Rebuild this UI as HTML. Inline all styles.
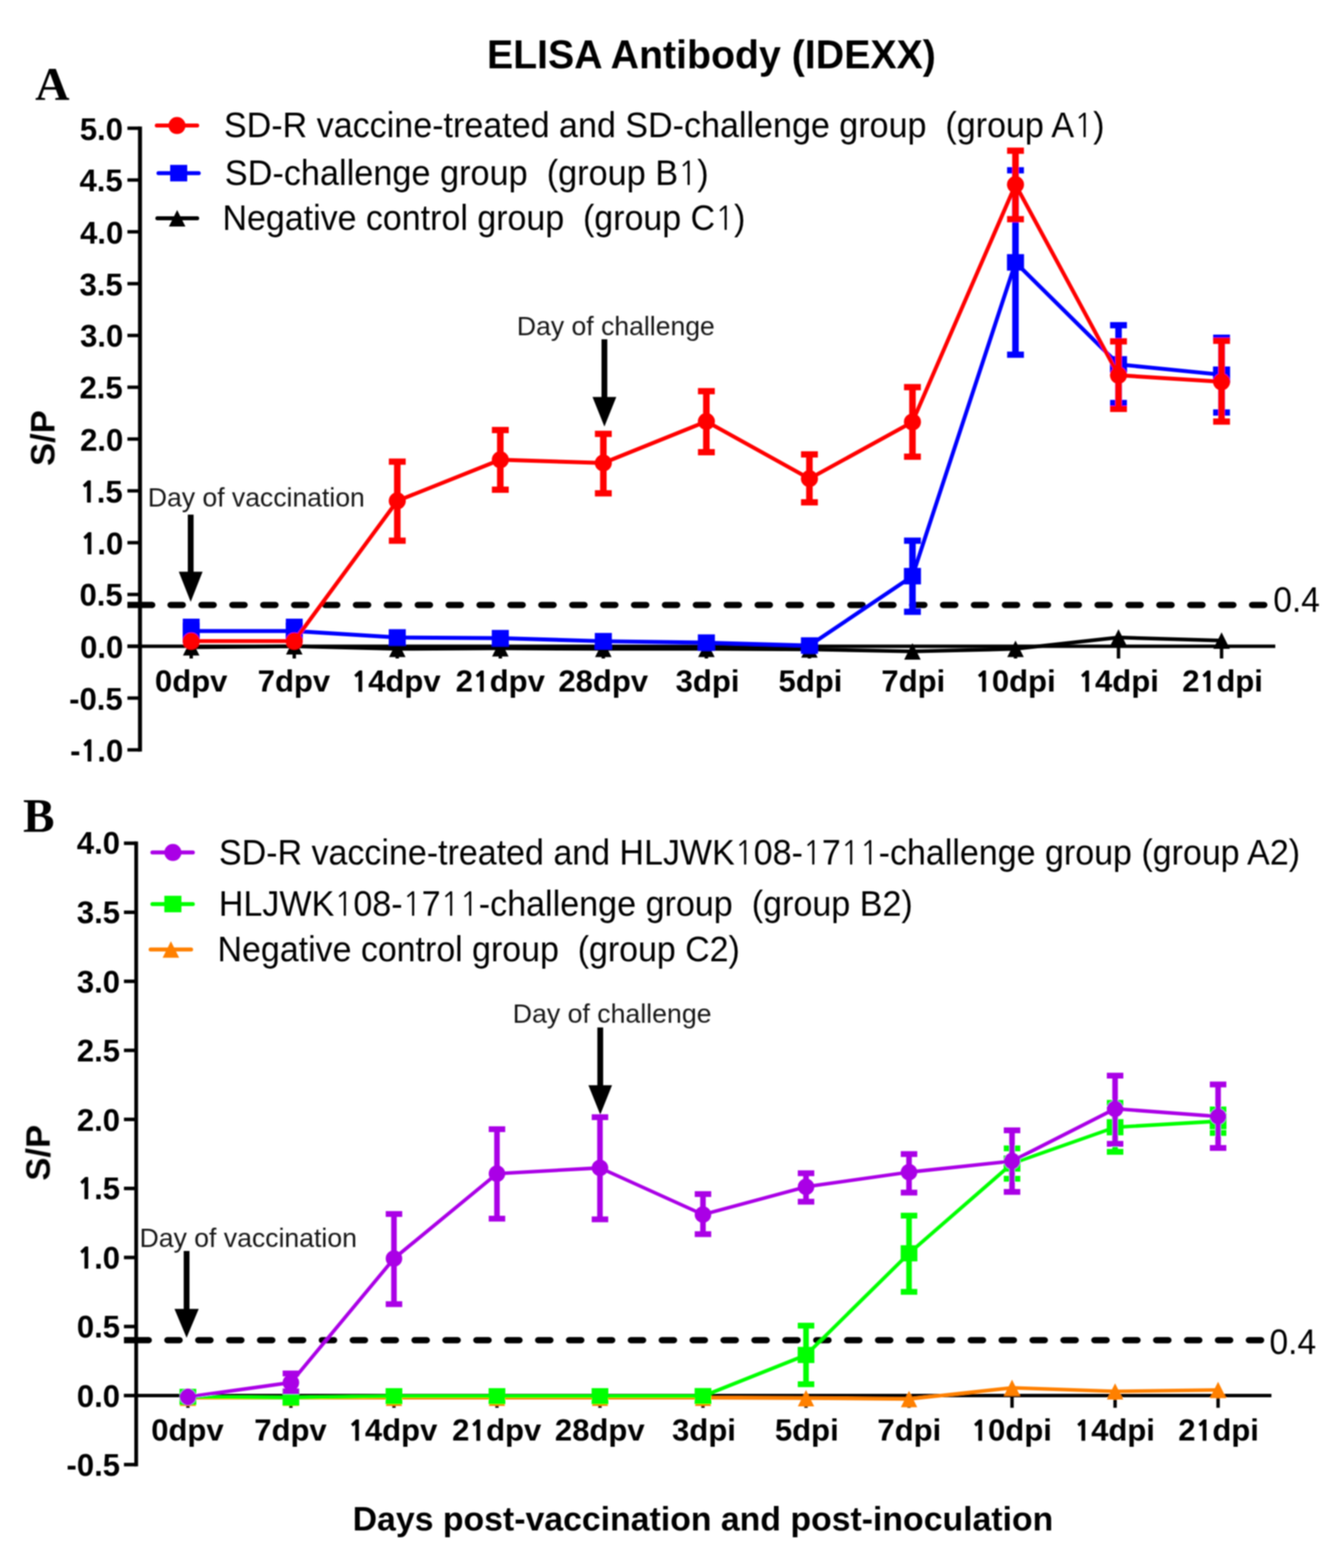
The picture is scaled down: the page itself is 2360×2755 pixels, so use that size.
<!DOCTYPE html>
<html><head><meta charset="utf-8"><title>ELISA Antibody (IDEXX)</title>
<style>html,body{margin:0;padding:0;background:#fff;}svg{display:block;}</style>
</head><body>
<svg width="2360" height="2755" viewBox="0 0 2360 2755">
<rect width="2360" height="2755" fill="#fff"/>
<defs><filter id="soft" filterUnits="userSpaceOnUse" x="0" y="0" width="2360" height="2755"><feGaussianBlur stdDeviation="0.8"/></filter></defs>
<g filter="url(#soft)">
<rect x="242.5" y="222.3" width="7.0" height="1098.2" fill="#000000"/>
<rect x="223.9" y="1314.5" width="22.1" height="6.0" fill="#000000"/>
<rect x="223.9" y="1223.5" width="22.1" height="6.0" fill="#000000"/>
<rect x="223.9" y="1132.5" width="22.1" height="6.0" fill="#000000"/>
<rect x="223.9" y="1041.5" width="22.1" height="6.0" fill="#000000"/>
<rect x="223.9" y="950.5" width="22.1" height="6.0" fill="#000000"/>
<rect x="223.9" y="859.4" width="22.1" height="6.0" fill="#000000"/>
<rect x="223.9" y="768.4" width="22.1" height="6.0" fill="#000000"/>
<rect x="223.9" y="677.4" width="22.1" height="6.0" fill="#000000"/>
<rect x="223.9" y="586.4" width="22.1" height="6.0" fill="#000000"/>
<rect x="223.9" y="495.4" width="22.1" height="6.0" fill="#000000"/>
<rect x="223.9" y="404.3" width="22.1" height="6.0" fill="#000000"/>
<rect x="223.9" y="313.3" width="22.1" height="6.0" fill="#000000"/>
<rect x="223.9" y="222.3" width="22.1" height="6.0" fill="#000000"/>
<rect x="223.9" y="1132.5" width="2017.1" height="6.0" fill="#000000"/>
<rect x="333.0" y="1135.5" width="6.0" height="21.5" fill="#000000"/>
<rect x="514.1" y="1135.5" width="6.0" height="21.5" fill="#000000"/>
<rect x="695.1" y="1135.5" width="6.0" height="21.5" fill="#000000"/>
<rect x="876.2" y="1135.5" width="6.0" height="21.5" fill="#000000"/>
<rect x="1057.2" y="1135.5" width="6.0" height="21.5" fill="#000000"/>
<rect x="1238.3" y="1135.5" width="6.0" height="21.5" fill="#000000"/>
<rect x="1419.4" y="1135.5" width="6.0" height="21.5" fill="#000000"/>
<rect x="1600.4" y="1135.5" width="6.0" height="21.5" fill="#000000"/>
<rect x="1781.5" y="1135.5" width="6.0" height="21.5" fill="#000000"/>
<rect x="1962.5" y="1135.5" width="6.0" height="21.5" fill="#000000"/>
<rect x="2143.6" y="1135.5" width="6.0" height="21.5" fill="#000000"/>
<rect x="223.9" y="1057.4" width="43.6" height="11.0" fill="#000000"/>
<circle cx="267.5" cy="1062.9" r="5.5" fill="#000000"/>
<line x1="299.7" y1="1062.9" x2="2223.0" y2="1062.9" stroke="#000" stroke-width="11" stroke-linecap="round" stroke-dasharray="21.5 32.80"/>
<rect x="330.0" y="904.2" width="10.2" height="102.3" fill="#000000"/>
<polygon points="314.2,1004.5 356.0,1004.5 335.1,1057.5" fill="#000000"/>
<rect x="1057.0" y="596.1" width="10.2" height="103.3" fill="#000000"/>
<polygon points="1041.2,697.4 1083.0,697.4 1062.1,749.5" fill="#000000"/>
<polyline points="336.0,1137.3 517.1,1135.5 698.1,1140.1 879.2,1139.1 1060.2,1140.1 1241.3,1140.1 1422.4,1141.0 1603.4,1144.6 1784.5,1140.1 1965.5,1120.0 2146.6,1125.5" fill="none" stroke="#000000" stroke-width="6.5" stroke-linejoin="round"/>
<polygon points="321.5,1151.8 350.5,1151.8 336.0,1122.8" fill="#000000"/>
<polygon points="502.6,1150.0 531.6,1150.0 517.1,1121.0" fill="#000000"/>
<polygon points="683.6,1154.6 712.6,1154.6 698.1,1125.6" fill="#000000"/>
<polygon points="864.7,1153.6 893.7,1153.6 879.2,1124.6" fill="#000000"/>
<polygon points="1045.7,1154.6 1074.7,1154.6 1060.2,1125.6" fill="#000000"/>
<polygon points="1226.8,1154.6 1255.8,1154.6 1241.3,1125.6" fill="#000000"/>
<polygon points="1407.9,1155.5 1436.9,1155.5 1422.4,1126.5" fill="#000000"/>
<polygon points="1588.9,1159.1 1617.9,1159.1 1603.4,1130.1" fill="#000000"/>
<polygon points="1770.0,1154.6 1799.0,1154.6 1784.5,1125.6" fill="#000000"/>
<polygon points="1951.0,1134.5 1980.0,1134.5 1965.5,1105.5" fill="#000000"/>
<polygon points="2132.1,1140.0 2161.1,1140.0 2146.6,1111.0" fill="#000000"/>
<rect x="330.2" y="1092.5" width="11.5" height="16.2" fill="#0000ff"/>
<rect x="321.2" y="1087.0" width="29.6" height="11.0" fill="#0000ff"/>
<rect x="330.2" y="1108.7" width="11.5" height="15.8" fill="#0000ff"/>
<rect x="321.2" y="1119.1" width="29.6" height="11.0" fill="#0000ff"/>
<rect x="511.3" y="1092.5" width="11.5" height="16.2" fill="#0000ff"/>
<rect x="502.3" y="1087.0" width="29.6" height="11.0" fill="#0000ff"/>
<rect x="511.3" y="1108.7" width="11.5" height="15.8" fill="#0000ff"/>
<rect x="502.3" y="1119.1" width="29.6" height="11.0" fill="#0000ff"/>
<rect x="1597.7" y="950.0" width="11.5" height="62.3" fill="#0000ff"/>
<rect x="1588.6" y="944.5" width="29.6" height="11.0" fill="#0000ff"/>
<rect x="1597.7" y="1012.3" width="11.5" height="62.6" fill="#0000ff"/>
<rect x="1588.6" y="1069.4" width="29.6" height="11.0" fill="#0000ff"/>
<rect x="1778.7" y="299.2" width="11.5" height="161.8" fill="#0000ff"/>
<rect x="1769.7" y="293.7" width="29.6" height="11.0" fill="#0000ff"/>
<rect x="1778.7" y="461.0" width="11.5" height="162.2" fill="#0000ff"/>
<rect x="1769.7" y="617.7" width="29.6" height="11.0" fill="#0000ff"/>
<rect x="1959.8" y="571.4" width="11.5" height="68.8" fill="#0000ff"/>
<rect x="1950.7" y="565.9" width="29.6" height="11.0" fill="#0000ff"/>
<rect x="1959.8" y="640.2" width="11.5" height="67.9" fill="#0000ff"/>
<rect x="1950.7" y="702.6" width="29.6" height="11.0" fill="#0000ff"/>
<rect x="2140.8" y="593.4" width="11.5" height="65.0" fill="#0000ff"/>
<rect x="2131.8" y="587.9" width="29.6" height="11.0" fill="#0000ff"/>
<rect x="2140.8" y="658.4" width="11.5" height="66.4" fill="#0000ff"/>
<rect x="2131.8" y="719.3" width="29.6" height="11.0" fill="#0000ff"/>
<polyline points="336.0,1108.7 517.1,1108.7 698.1,1120.0 879.2,1121.3 1060.2,1126.6 1241.3,1129.1 1422.4,1134.2 1603.4,1012.3 1784.5,461.0 1965.5,640.2 2146.6,658.4" fill="none" stroke="#0000ff" stroke-width="6.9" stroke-linejoin="round"/>
<rect x="321.0" y="1094.2" width="30.0" height="29.0" fill="#0000ff"/>
<rect x="502.1" y="1094.2" width="30.0" height="29.0" fill="#0000ff"/>
<rect x="683.1" y="1105.5" width="30.0" height="29.0" fill="#0000ff"/>
<rect x="864.2" y="1106.8" width="30.0" height="29.0" fill="#0000ff"/>
<rect x="1045.2" y="1112.1" width="30.0" height="29.0" fill="#0000ff"/>
<rect x="1226.3" y="1114.6" width="30.0" height="29.0" fill="#0000ff"/>
<rect x="1407.4" y="1119.7" width="30.0" height="29.0" fill="#0000ff"/>
<rect x="1588.4" y="997.8" width="30.0" height="29.0" fill="#0000ff"/>
<rect x="1769.5" y="446.5" width="30.0" height="29.0" fill="#0000ff"/>
<rect x="1950.5" y="625.7" width="30.0" height="29.0" fill="#0000ff"/>
<rect x="2131.6" y="643.9" width="30.0" height="29.0" fill="#0000ff"/>
<rect x="692.4" y="811.1" width="11.5" height="69.0" fill="#ff0000"/>
<rect x="683.3" y="805.6" width="29.6" height="11.0" fill="#ff0000"/>
<rect x="692.4" y="880.1" width="11.5" height="69.9" fill="#ff0000"/>
<rect x="683.3" y="944.5" width="29.6" height="11.0" fill="#ff0000"/>
<rect x="873.4" y="755.6" width="11.5" height="52.2" fill="#ff0000"/>
<rect x="864.4" y="750.1" width="29.6" height="11.0" fill="#ff0000"/>
<rect x="873.4" y="807.8" width="11.5" height="52.6" fill="#ff0000"/>
<rect x="864.4" y="854.9" width="29.6" height="11.0" fill="#ff0000"/>
<rect x="1054.5" y="762.3" width="11.5" height="51.2" fill="#ff0000"/>
<rect x="1045.4" y="756.8" width="29.6" height="11.0" fill="#ff0000"/>
<rect x="1054.5" y="813.5" width="11.5" height="53.3" fill="#ff0000"/>
<rect x="1045.4" y="861.3" width="29.6" height="11.0" fill="#ff0000"/>
<rect x="1235.5" y="687.3" width="11.5" height="53.2" fill="#ff0000"/>
<rect x="1226.5" y="681.8" width="29.6" height="11.0" fill="#ff0000"/>
<rect x="1235.5" y="740.5" width="11.5" height="54.1" fill="#ff0000"/>
<rect x="1226.5" y="789.0" width="29.6" height="11.0" fill="#ff0000"/>
<rect x="1416.6" y="798.4" width="11.5" height="42.6" fill="#ff0000"/>
<rect x="1407.6" y="792.9" width="29.6" height="11.0" fill="#ff0000"/>
<rect x="1416.6" y="841.0" width="11.5" height="41.7" fill="#ff0000"/>
<rect x="1407.6" y="877.1" width="29.6" height="11.0" fill="#ff0000"/>
<rect x="1597.7" y="680.2" width="11.5" height="61.2" fill="#ff0000"/>
<rect x="1588.6" y="674.7" width="29.6" height="11.0" fill="#ff0000"/>
<rect x="1597.7" y="741.4" width="11.5" height="61.0" fill="#ff0000"/>
<rect x="1588.6" y="796.9" width="29.6" height="11.0" fill="#ff0000"/>
<rect x="1778.7" y="264.8" width="11.5" height="59.5" fill="#ff0000"/>
<rect x="1769.7" y="259.3" width="29.6" height="11.0" fill="#ff0000"/>
<rect x="1778.7" y="324.3" width="11.5" height="60.8" fill="#ff0000"/>
<rect x="1769.7" y="379.6" width="29.6" height="11.0" fill="#ff0000"/>
<rect x="1959.8" y="599.8" width="11.5" height="59.5" fill="#ff0000"/>
<rect x="1950.7" y="594.3" width="29.6" height="11.0" fill="#ff0000"/>
<rect x="1959.8" y="659.3" width="11.5" height="59.2" fill="#ff0000"/>
<rect x="1950.7" y="712.9" width="29.6" height="11.0" fill="#ff0000"/>
<rect x="2140.8" y="598.8" width="11.5" height="71.9" fill="#ff0000"/>
<rect x="2131.8" y="593.3" width="29.6" height="11.0" fill="#ff0000"/>
<rect x="2140.8" y="670.8" width="11.5" height="69.9" fill="#ff0000"/>
<rect x="2131.8" y="735.2" width="29.6" height="11.0" fill="#ff0000"/>
<polyline points="336.0,1126.4 517.1,1126.4 698.1,880.1 879.2,807.8 1060.2,813.5 1241.3,740.5 1422.4,841.0 1603.4,741.4 1784.5,324.3 1965.5,659.3 2146.6,670.8" fill="none" stroke="#ff0000" stroke-width="6.9" stroke-linejoin="round"/>
<circle cx="336.0" cy="1126.4" r="15.0" fill="#ff0000"/>
<circle cx="517.1" cy="1126.4" r="15.0" fill="#ff0000"/>
<circle cx="698.1" cy="880.1" r="15.0" fill="#ff0000"/>
<circle cx="879.2" cy="807.8" r="15.0" fill="#ff0000"/>
<circle cx="1060.2" cy="813.5" r="15.0" fill="#ff0000"/>
<circle cx="1241.3" cy="740.5" r="15.0" fill="#ff0000"/>
<circle cx="1422.4" cy="841.0" r="15.0" fill="#ff0000"/>
<circle cx="1603.4" cy="741.4" r="15.0" fill="#ff0000"/>
<circle cx="1784.5" cy="324.3" r="15.0" fill="#ff0000"/>
<circle cx="1965.5" cy="659.3" r="15.0" fill="#ff0000"/>
<circle cx="2146.6" cy="670.8" r="15.0" fill="#ff0000"/>
<line x1="275.5" y1="220.6" x2="346.5" y2="220.6" stroke="#ff0000" stroke-width="7.0" stroke-linecap="round"/>
<circle cx="311.0" cy="220.6" r="15.0" fill="#ff0000"/>
<line x1="278.5" y1="304.2" x2="349.2" y2="304.2" stroke="#0000ff" stroke-width="7.0" stroke-linecap="round"/>
<rect x="299.0" y="289.7" width="30.0" height="29.0" fill="#0000ff"/>
<line x1="276.5" y1="383.6" x2="346.5" y2="383.6" stroke="#000000" stroke-width="7.0" stroke-linecap="round"/>
<polygon points="296.8,398.1 325.8,398.1 311.3,369.1" fill="#000000"/>
<rect x="236.0" y="1478.5" width="6.6" height="1097.9" fill="#000000"/>
<rect x="217.8" y="2570.2" width="21.5" height="6.2" fill="#000000"/>
<rect x="217.8" y="2448.9" width="21.5" height="6.2" fill="#000000"/>
<rect x="217.8" y="2327.6" width="21.5" height="6.2" fill="#000000"/>
<rect x="217.8" y="2206.3" width="21.5" height="6.2" fill="#000000"/>
<rect x="217.8" y="2085.0" width="21.5" height="6.2" fill="#000000"/>
<rect x="217.8" y="1963.7" width="21.5" height="6.2" fill="#000000"/>
<rect x="217.8" y="1842.4" width="21.5" height="6.2" fill="#000000"/>
<rect x="217.8" y="1721.1" width="21.5" height="6.2" fill="#000000"/>
<rect x="217.8" y="1599.8" width="21.5" height="6.2" fill="#000000"/>
<rect x="217.8" y="1478.5" width="21.5" height="6.2" fill="#000000"/>
<rect x="217.8" y="2449.0" width="2016.4" height="6.0" fill="#000000"/>
<rect x="327.2" y="2452.0" width="6.0" height="21.5" fill="#000000"/>
<rect x="508.2" y="2452.0" width="6.0" height="21.5" fill="#000000"/>
<rect x="689.3" y="2452.0" width="6.0" height="21.5" fill="#000000"/>
<rect x="870.3" y="2452.0" width="6.0" height="21.5" fill="#000000"/>
<rect x="1051.3" y="2452.0" width="6.0" height="21.5" fill="#000000"/>
<rect x="1232.3" y="2452.0" width="6.0" height="21.5" fill="#000000"/>
<rect x="1413.4" y="2452.0" width="6.0" height="21.5" fill="#000000"/>
<rect x="1594.4" y="2452.0" width="6.0" height="21.5" fill="#000000"/>
<rect x="1775.4" y="2452.0" width="6.0" height="21.5" fill="#000000"/>
<rect x="1956.5" y="2452.0" width="6.0" height="21.5" fill="#000000"/>
<rect x="2137.5" y="2452.0" width="6.0" height="21.5" fill="#000000"/>
<rect x="217.8" y="2349.2" width="43.6" height="11.0" fill="#000000"/>
<circle cx="261.4" cy="2354.7" r="5.5" fill="#000000"/>
<line x1="294.1" y1="2354.7" x2="2217.0" y2="2354.7" stroke="#000" stroke-width="11" stroke-linecap="round" stroke-dasharray="21.5 32.80"/>
<rect x="322.8" y="2198.0" width="10.2" height="103.7" fill="#000000"/>
<polygon points="306.6,2299.7 349.2,2299.7 327.9,2350.6" fill="#000000"/>
<rect x="1049.7" y="1805.3" width="10.2" height="103.4" fill="#000000"/>
<polygon points="1034.0,1906.7 1075.5,1906.7 1054.8,1958.4" fill="#000000"/>
<polyline points="330.2,2455.9 511.2,2455.9 692.3,2455.9 873.3,2455.9 1054.3,2455.9 1235.3,2455.9 1416.4,2456.6 1597.4,2458.1 1778.4,2438.4 1959.5,2444.7 2140.5,2442.1" fill="none" stroke="#ff8000" stroke-width="6.3" stroke-linejoin="round"/>
<polygon points="315.8,2470.2 344.6,2470.2 330.2,2441.5" fill="#ff8000"/>
<polygon points="496.9,2470.2 525.6,2470.2 511.2,2441.5" fill="#ff8000"/>
<polygon points="677.9,2470.2 706.6,2470.2 692.3,2441.5" fill="#ff8000"/>
<polygon points="858.9,2470.2 887.6,2470.2 873.3,2441.5" fill="#ff8000"/>
<polygon points="1040.0,2470.2 1068.7,2470.2 1054.3,2441.5" fill="#ff8000"/>
<polygon points="1221.0,2470.2 1249.7,2470.2 1235.3,2441.5" fill="#ff8000"/>
<polygon points="1402.0,2471.0 1430.7,2471.0 1416.4,2442.3" fill="#ff8000"/>
<polygon points="1583.1,2472.4 1611.8,2472.4 1597.4,2443.7" fill="#ff8000"/>
<polygon points="1764.1,2452.8 1792.8,2452.8 1778.4,2424.1" fill="#ff8000"/>
<polygon points="1945.1,2459.1 1973.8,2459.1 1959.5,2430.4" fill="#ff8000"/>
<polygon points="2126.1,2456.4 2154.9,2456.4 2140.5,2427.7" fill="#ff8000"/>
<rect x="1411.5" y="2329.2" width="9.8" height="51.4" fill="#00ff00"/>
<rect x="1401.9" y="2324.1" width="29.0" height="10.2" fill="#00ff00"/>
<rect x="1411.5" y="2380.7" width="9.8" height="51.4" fill="#00ff00"/>
<rect x="1401.9" y="2427.0" width="29.0" height="10.2" fill="#00ff00"/>
<rect x="1592.5" y="2135.9" width="9.8" height="66.2" fill="#00ff00"/>
<rect x="1582.9" y="2130.8" width="29.0" height="10.2" fill="#00ff00"/>
<rect x="1592.5" y="2202.1" width="9.8" height="67.7" fill="#00ff00"/>
<rect x="1582.9" y="2264.7" width="29.0" height="10.2" fill="#00ff00"/>
<rect x="1773.5" y="2017.7" width="9.8" height="26.7" fill="#00ff00"/>
<rect x="1763.9" y="2012.6" width="29.0" height="10.2" fill="#00ff00"/>
<rect x="1773.5" y="2044.4" width="9.8" height="26.7" fill="#00ff00"/>
<rect x="1763.9" y="2066.0" width="29.0" height="10.2" fill="#00ff00"/>
<rect x="1954.6" y="1937.7" width="9.8" height="42.9" fill="#00ff00"/>
<rect x="1945.0" y="1932.6" width="29.0" height="10.2" fill="#00ff00"/>
<rect x="1954.6" y="1980.6" width="9.8" height="43.2" fill="#00ff00"/>
<rect x="1945.0" y="2018.7" width="29.0" height="10.2" fill="#00ff00"/>
<rect x="2135.6" y="1949.3" width="9.8" height="20.6" fill="#00ff00"/>
<rect x="2126.0" y="1944.2" width="29.0" height="10.2" fill="#00ff00"/>
<rect x="2135.6" y="1970.0" width="9.8" height="20.6" fill="#00ff00"/>
<rect x="2126.0" y="1985.5" width="29.0" height="10.2" fill="#00ff00"/>
<polyline points="330.2,2454.4 511.2,2455.6 692.3,2453.2 873.3,2453.2 1054.3,2453.2 1235.3,2453.0 1416.4,2380.7 1597.4,2202.1 1778.4,2044.4 1959.5,1980.6 2140.5,1970.0" fill="none" stroke="#00ff00" stroke-width="6.3" stroke-linejoin="round"/>
<rect x="315.5" y="2440.2" width="29.4" height="28.4" fill="#00ff00"/>
<rect x="496.5" y="2441.4" width="29.4" height="28.4" fill="#00ff00"/>
<rect x="677.6" y="2439.0" width="29.4" height="28.4" fill="#00ff00"/>
<rect x="858.6" y="2439.0" width="29.4" height="28.4" fill="#00ff00"/>
<rect x="1039.6" y="2439.0" width="29.4" height="28.4" fill="#00ff00"/>
<rect x="1220.6" y="2438.8" width="29.4" height="28.4" fill="#00ff00"/>
<rect x="1401.7" y="2366.5" width="29.4" height="28.4" fill="#00ff00"/>
<rect x="1582.7" y="2187.9" width="29.4" height="28.4" fill="#00ff00"/>
<rect x="1763.7" y="2030.2" width="29.4" height="28.4" fill="#00ff00"/>
<rect x="1944.8" y="1966.4" width="29.4" height="28.4" fill="#00ff00"/>
<rect x="2125.8" y="1955.7" width="29.4" height="28.4" fill="#00ff00"/>
<rect x="506.3" y="2413.2" width="9.8" height="16.0" fill="#aa00e6"/>
<rect x="496.7" y="2408.1" width="29.0" height="10.2" fill="#aa00e6"/>
<rect x="506.3" y="2429.2" width="9.8" height="15.5" fill="#aa00e6"/>
<rect x="496.7" y="2439.6" width="29.0" height="10.2" fill="#aa00e6"/>
<rect x="687.4" y="2133.0" width="9.8" height="78.4" fill="#aa00e6"/>
<rect x="677.8" y="2127.9" width="29.0" height="10.2" fill="#aa00e6"/>
<rect x="687.4" y="2211.3" width="9.8" height="80.1" fill="#aa00e6"/>
<rect x="677.8" y="2286.3" width="29.0" height="10.2" fill="#aa00e6"/>
<rect x="868.4" y="1984.0" width="9.8" height="78.1" fill="#aa00e6"/>
<rect x="858.8" y="1978.9" width="29.0" height="10.2" fill="#aa00e6"/>
<rect x="868.4" y="2062.1" width="9.8" height="79.1" fill="#aa00e6"/>
<rect x="858.8" y="2136.1" width="29.0" height="10.2" fill="#aa00e6"/>
<rect x="1049.4" y="1962.9" width="9.8" height="89.0" fill="#aa00e6"/>
<rect x="1039.8" y="1957.8" width="29.0" height="10.2" fill="#aa00e6"/>
<rect x="1049.4" y="2052.0" width="9.8" height="90.5" fill="#aa00e6"/>
<rect x="1039.8" y="2137.3" width="29.0" height="10.2" fill="#aa00e6"/>
<rect x="1230.4" y="2098.0" width="9.8" height="35.9" fill="#aa00e6"/>
<rect x="1220.8" y="2092.9" width="29.0" height="10.2" fill="#aa00e6"/>
<rect x="1230.4" y="2134.0" width="9.8" height="34.4" fill="#aa00e6"/>
<rect x="1220.8" y="2163.3" width="29.0" height="10.2" fill="#aa00e6"/>
<rect x="1411.5" y="2061.4" width="9.8" height="23.8" fill="#aa00e6"/>
<rect x="1401.9" y="2056.3" width="29.0" height="10.2" fill="#aa00e6"/>
<rect x="1411.5" y="2085.2" width="9.8" height="26.2" fill="#aa00e6"/>
<rect x="1401.9" y="2106.3" width="29.0" height="10.2" fill="#aa00e6"/>
<rect x="1592.5" y="2027.7" width="9.8" height="31.8" fill="#aa00e6"/>
<rect x="1582.9" y="2022.6" width="29.0" height="10.2" fill="#aa00e6"/>
<rect x="1592.5" y="2059.5" width="9.8" height="35.9" fill="#aa00e6"/>
<rect x="1582.9" y="2090.3" width="29.0" height="10.2" fill="#aa00e6"/>
<rect x="1773.5" y="1986.0" width="9.8" height="54.1" fill="#aa00e6"/>
<rect x="1763.9" y="1980.9" width="29.0" height="10.2" fill="#aa00e6"/>
<rect x="1773.5" y="2040.1" width="9.8" height="54.1" fill="#aa00e6"/>
<rect x="1763.9" y="2089.1" width="29.0" height="10.2" fill="#aa00e6"/>
<rect x="1954.6" y="1889.9" width="9.8" height="58.2" fill="#aa00e6"/>
<rect x="1945.0" y="1884.8" width="29.0" height="10.2" fill="#aa00e6"/>
<rect x="1954.6" y="1948.1" width="9.8" height="61.6" fill="#aa00e6"/>
<rect x="1945.0" y="2004.6" width="29.0" height="10.2" fill="#aa00e6"/>
<rect x="2135.6" y="1905.4" width="9.8" height="56.3" fill="#aa00e6"/>
<rect x="2126.0" y="1900.3" width="29.0" height="10.2" fill="#aa00e6"/>
<rect x="2135.6" y="1961.7" width="9.8" height="55.3" fill="#aa00e6"/>
<rect x="2126.0" y="2011.9" width="29.0" height="10.2" fill="#aa00e6"/>
<polyline points="330.2,2454.4 511.2,2429.2 692.3,2211.3 873.3,2062.1 1054.3,2052.0 1235.3,2134.0 1416.4,2085.2 1597.4,2059.5 1778.4,2040.1 1959.5,1948.1 2140.5,1961.7" fill="none" stroke="#aa00e6" stroke-width="6.3" stroke-linejoin="round"/>
<circle cx="330.2" cy="2454.4" r="14.549999999999999" fill="#aa00e6"/>
<circle cx="511.2" cy="2429.2" r="14.549999999999999" fill="#aa00e6"/>
<circle cx="692.3" cy="2211.3" r="14.549999999999999" fill="#aa00e6"/>
<circle cx="873.3" cy="2062.1" r="14.549999999999999" fill="#aa00e6"/>
<circle cx="1054.3" cy="2052.0" r="14.549999999999999" fill="#aa00e6"/>
<circle cx="1235.3" cy="2134.0" r="14.549999999999999" fill="#aa00e6"/>
<circle cx="1416.4" cy="2085.2" r="14.549999999999999" fill="#aa00e6"/>
<circle cx="1597.4" cy="2059.5" r="14.549999999999999" fill="#aa00e6"/>
<circle cx="1778.4" cy="2040.1" r="14.549999999999999" fill="#aa00e6"/>
<circle cx="1959.5" cy="1948.1" r="14.549999999999999" fill="#aa00e6"/>
<circle cx="2140.5" cy="1961.7" r="14.549999999999999" fill="#aa00e6"/>
<line x1="267.8" y1="1497.8" x2="338.9" y2="1497.8" stroke="#aa00e6" stroke-width="7.0" stroke-linecap="round"/>
<circle cx="303.8" cy="1497.8" r="15.0" fill="#aa00e6"/>
<line x1="267.8" y1="1588.4" x2="338.9" y2="1588.4" stroke="#00ff00" stroke-width="7.0" stroke-linecap="round"/>
<rect x="288.8" y="1573.9" width="30.0" height="29.0" fill="#00ff00"/>
<line x1="264.7" y1="1668.2" x2="335.8" y2="1668.2" stroke="#ff8000" stroke-width="7.0" stroke-linecap="round"/>
<polygon points="285.8,1682.7 314.8,1682.7 300.3,1653.7" fill="#ff8000"/>
<text transform="translate(1250.10,120.02) scale(0.9928,1)" font-family="'Liberation Sans', Arial, sans-serif" font-size="69.56" font-weight="bold" text-anchor="middle" fill="#000">ELISA Antibody (IDEXX)</text>
<text transform="translate(91.89,175.08) scale(1.0063,1)" font-family="'Liberation Serif', 'Times New Roman', serif" font-size="83.23" font-weight="bold" text-anchor="middle" fill="#000">A</text>
<text transform="translate(68.29,1462.42) scale(0.9888,1)" font-family="'Liberation Serif', 'Times New Roman', serif" font-size="83.94" font-weight="bold" text-anchor="middle" fill="#000">B</text>
<text transform="translate(1167.20,241.21) scale(0.9580,1)" font-family="'Liberation Sans', Arial, sans-serif" font-size="62.50" font-weight="normal" text-anchor="middle" fill="#000">SD-R vaccine-treated and SD-challenge group  (group A<tspan font-family="NanumGothic, 'Liberation Sans', sans-serif" style="font-size:0.922em">1</tspan>)</text>
<text transform="translate(820.16,324.64) scale(0.9635,1)" font-family="'Liberation Sans', Arial, sans-serif" font-size="62.50" font-weight="normal" text-anchor="middle" fill="#000">SD-challenge group  (group B<tspan font-family="NanumGothic, 'Liberation Sans', sans-serif" style="font-size:0.922em">1</tspan>)</text>
<text transform="translate(850.41,403.88) scale(0.9549,1)" font-family="'Liberation Sans', Arial, sans-serif" font-size="62.50" font-weight="normal" text-anchor="middle" fill="#000">Negative control group  (group C<tspan font-family="NanumGothic, 'Liberation Sans', sans-serif" style="font-size:0.922em">1</tspan>)</text>
<text transform="translate(1334.70,1518.62) scale(0.9558,1)" font-family="'Liberation Sans', Arial, sans-serif" font-size="62.50" font-weight="normal" text-anchor="middle" fill="#000">SD-R vaccine-treated and HLJWK<tspan font-family="NanumGothic, 'Liberation Sans', sans-serif" style="font-size:0.922em">1</tspan>08-<tspan font-family="NanumGothic, 'Liberation Sans', sans-serif" style="font-size:0.922em">1</tspan>7<tspan font-family="NanumGothic, 'Liberation Sans', sans-serif" style="font-size:0.922em">1</tspan><tspan font-family="NanumGothic, 'Liberation Sans', sans-serif" style="font-size:0.922em">1</tspan>-challenge group (group A2)</text>
<text transform="translate(994.18,1609.21) scale(0.9587,1)" font-family="'Liberation Sans', Arial, sans-serif" font-size="62.50" font-weight="normal" text-anchor="middle" fill="#000">HLJWK<tspan font-family="NanumGothic, 'Liberation Sans', sans-serif" style="font-size:0.922em">1</tspan>08-<tspan font-family="NanumGothic, 'Liberation Sans', sans-serif" style="font-size:0.922em">1</tspan>7<tspan font-family="NanumGothic, 'Liberation Sans', sans-serif" style="font-size:0.922em">1</tspan><tspan font-family="NanumGothic, 'Liberation Sans', sans-serif" style="font-size:0.922em">1</tspan>-challenge group  (group B2)</text>
<text transform="translate(841.20,1688.71) scale(0.9539,1)" font-family="'Liberation Sans', Arial, sans-serif" font-size="62.50" font-weight="normal" text-anchor="middle" fill="#000">Negative control group  (group C2)</text>
<text transform="translate(95.61,769.70) rotate(-90) scale(1.0265,1)" font-family="'Liberation Sans', Arial, sans-serif" font-size="59.20" font-weight="bold" text-anchor="middle" fill="#000">S/P</text>
<text transform="translate(87.40,2025.40) rotate(-90) scale(1.0263,1)" font-family="'Liberation Sans', Arial, sans-serif" font-size="59.20" font-weight="bold" text-anchor="middle" fill="#000">S/P</text>
<text transform="translate(2278.40,1074.64) scale(0.9502,1)" font-family="'Liberation Sans', Arial, sans-serif" font-size="62.10" font-weight="normal" text-anchor="middle" fill="#000">0.4</text>
<text transform="translate(2271.73,2379.49) scale(0.9511,1)" font-family="'Liberation Sans', Arial, sans-serif" font-size="62.10" font-weight="normal" text-anchor="middle" fill="#000">0.4</text>
<text transform="translate(450.40,889.93) scale(1.0261,1)" font-family="'Liberation Sans', Arial, sans-serif" font-size="45.50" font-weight="normal" text-anchor="middle" fill="#181818">Day of vaccination</text>
<text transform="translate(1082.19,589.07) scale(1.0263,1)" font-family="'Liberation Sans', Arial, sans-serif" font-size="45.50" font-weight="normal" text-anchor="middle" fill="#181818">Day of challenge</text>
<text transform="translate(436.19,2190.67) scale(1.0277,1)" font-family="'Liberation Sans', Arial, sans-serif" font-size="45.50" font-weight="normal" text-anchor="middle" fill="#181818">Day of vaccination</text>
<text transform="translate(1075.69,1796.77) scale(1.0302,1)" font-family="'Liberation Sans', Arial, sans-serif" font-size="45.50" font-weight="normal" text-anchor="middle" fill="#181818">Day of challenge</text>
<text transform="translate(1235.30,2689.25) scale(1.0112,1)" font-family="'Liberation Sans', Arial, sans-serif" font-size="58.76" font-weight="bold" text-anchor="middle" fill="#000">Days post-vaccination and post-inoculation</text>
<text transform="translate(216.19,245.98) scale(0.9753,1)" font-family="'Liberation Sans', Arial, sans-serif" font-size="56.03" font-weight="bold" text-anchor="end" fill="#000">5.0</text>
<text transform="translate(215.60,335.80) scale(0.9753,1)" font-family="'Liberation Sans', Arial, sans-serif" font-size="56.03" font-weight="bold" text-anchor="end" fill="#000">4.5</text>
<text transform="translate(216.60,427.50) scale(0.9753,1)" font-family="'Liberation Sans', Arial, sans-serif" font-size="56.03" font-weight="bold" text-anchor="end" fill="#000">4.0</text>
<text transform="translate(215.60,518.70) scale(0.9753,1)" font-family="'Liberation Sans', Arial, sans-serif" font-size="56.03" font-weight="bold" text-anchor="end" fill="#000">3.5</text>
<text transform="translate(216.60,608.90) scale(0.9753,1)" font-family="'Liberation Sans', Arial, sans-serif" font-size="56.03" font-weight="bold" text-anchor="end" fill="#000">3.0</text>
<text transform="translate(215.60,700.10) scale(0.9753,1)" font-family="'Liberation Sans', Arial, sans-serif" font-size="56.03" font-weight="bold" text-anchor="end" fill="#000">2.5</text>
<text transform="translate(216.60,791.80) scale(0.9753,1)" font-family="'Liberation Sans', Arial, sans-serif" font-size="56.03" font-weight="bold" text-anchor="end" fill="#000">2.0</text>
<text transform="translate(215.60,882.50) scale(0.9753,1)" font-family="'Liberation Sans', Arial, sans-serif" font-size="56.03" font-weight="bold" text-anchor="end" fill="#000"><tspan font-family="NanumGothic, 'Liberation Sans', sans-serif" font-weight="800" style="font-size:0.89em">1</tspan>.5</text>
<text transform="translate(216.60,973.70) scale(0.9753,1)" font-family="'Liberation Sans', Arial, sans-serif" font-size="56.03" font-weight="bold" text-anchor="end" fill="#000"><tspan font-family="NanumGothic, 'Liberation Sans', sans-serif" font-weight="800" style="font-size:0.89em">1</tspan>.0</text>
<text transform="translate(215.60,1064.40) scale(0.9753,1)" font-family="'Liberation Sans', Arial, sans-serif" font-size="56.03" font-weight="bold" text-anchor="end" fill="#000">0.5</text>
<text transform="translate(216.60,1155.60) scale(0.9753,1)" font-family="'Liberation Sans', Arial, sans-serif" font-size="56.03" font-weight="bold" text-anchor="end" fill="#000">0.0</text>
<text transform="translate(215.60,1246.80) scale(0.9753,1)" font-family="'Liberation Sans', Arial, sans-serif" font-size="56.03" font-weight="bold" text-anchor="end" fill="#000">-0.5</text>
<text transform="translate(216.60,1337.50) scale(0.9753,1)" font-family="'Liberation Sans', Arial, sans-serif" font-size="56.03" font-weight="bold" text-anchor="end" fill="#000">-<tspan font-family="NanumGothic, 'Liberation Sans', sans-serif" font-weight="800" style="font-size:0.89em">1</tspan>.0</text>
<text transform="translate(211.00,1500.40) scale(0.9753,1)" font-family="'Liberation Sans', Arial, sans-serif" font-size="56.03" font-weight="bold" text-anchor="end" fill="#000">4.0</text>
<text transform="translate(211.00,1622.30) scale(0.9753,1)" font-family="'Liberation Sans', Arial, sans-serif" font-size="56.03" font-weight="bold" text-anchor="end" fill="#000">3.5</text>
<text transform="translate(211.00,1743.70) scale(0.9753,1)" font-family="'Liberation Sans', Arial, sans-serif" font-size="56.03" font-weight="bold" text-anchor="end" fill="#000">3.0</text>
<text transform="translate(211.00,1864.60) scale(0.9753,1)" font-family="'Liberation Sans', Arial, sans-serif" font-size="56.03" font-weight="bold" text-anchor="end" fill="#000">2.5</text>
<text transform="translate(211.00,1986.50) scale(0.9753,1)" font-family="'Liberation Sans', Arial, sans-serif" font-size="56.03" font-weight="bold" text-anchor="end" fill="#000">2.0</text>
<text transform="translate(211.00,2107.40) scale(0.9753,1)" font-family="'Liberation Sans', Arial, sans-serif" font-size="56.03" font-weight="bold" text-anchor="end" fill="#000"><tspan font-family="NanumGothic, 'Liberation Sans', sans-serif" font-weight="800" style="font-size:0.89em">1</tspan>.5</text>
<text transform="translate(211.00,2228.80) scale(0.9753,1)" font-family="'Liberation Sans', Arial, sans-serif" font-size="56.03" font-weight="bold" text-anchor="end" fill="#000"><tspan font-family="NanumGothic, 'Liberation Sans', sans-serif" font-weight="800" style="font-size:0.89em">1</tspan>.0</text>
<text transform="translate(211.00,2350.20) scale(0.9753,1)" font-family="'Liberation Sans', Arial, sans-serif" font-size="56.03" font-weight="bold" text-anchor="end" fill="#000">0.5</text>
<text transform="translate(211.00,2471.60) scale(0.9753,1)" font-family="'Liberation Sans', Arial, sans-serif" font-size="56.03" font-weight="bold" text-anchor="end" fill="#000">0.0</text>
<text transform="translate(211.00,2593.00) scale(0.9753,1)" font-family="'Liberation Sans', Arial, sans-serif" font-size="56.03" font-weight="bold" text-anchor="end" fill="#000">-0.5</text>
<text transform="translate(336.01,1214.86) scale(1.0210,1)" font-family="'Liberation Sans', Arial, sans-serif" font-size="53.44" font-weight="bold" text-anchor="middle" fill="#000">0dpv</text>
<text transform="translate(516.52,1214.60) scale(1.0210,1)" font-family="'Liberation Sans', Arial, sans-serif" font-size="53.44" font-weight="bold" text-anchor="middle" fill="#000">7dpv</text>
<text transform="translate(695.84,1214.60) scale(1.0210,1)" font-family="'Liberation Sans', Arial, sans-serif" font-size="53.44" font-weight="bold" text-anchor="middle" fill="#000"><tspan font-family="NanumGothic, 'Liberation Sans', sans-serif" font-weight="800" style="font-size:0.89em">1</tspan>4dpv</text>
<text transform="translate(879.16,1214.60) scale(1.0210,1)" font-family="'Liberation Sans', Arial, sans-serif" font-size="53.44" font-weight="bold" text-anchor="middle" fill="#000">2<tspan font-family="NanumGothic, 'Liberation Sans', sans-serif" font-weight="800" style="font-size:0.89em">1</tspan>dpv</text>
<text transform="translate(1059.98,1214.60) scale(1.0210,1)" font-family="'Liberation Sans', Arial, sans-serif" font-size="53.44" font-weight="bold" text-anchor="middle" fill="#000">28dpv</text>
<text transform="translate(1243.30,1214.60) scale(1.0210,1)" font-family="'Liberation Sans', Arial, sans-serif" font-size="53.44" font-weight="bold" text-anchor="middle" fill="#000">3dpi</text>
<text transform="translate(1424.12,1214.60) scale(1.0210,1)" font-family="'Liberation Sans', Arial, sans-serif" font-size="53.44" font-weight="bold" text-anchor="middle" fill="#000">5dpi</text>
<text transform="translate(1604.94,1214.60) scale(1.0210,1)" font-family="'Liberation Sans', Arial, sans-serif" font-size="53.44" font-weight="bold" text-anchor="middle" fill="#000">7dpi</text>
<text transform="translate(1784.26,1214.60) scale(1.0210,1)" font-family="'Liberation Sans', Arial, sans-serif" font-size="53.44" font-weight="bold" text-anchor="middle" fill="#000"><tspan font-family="NanumGothic, 'Liberation Sans', sans-serif" font-weight="800" style="font-size:0.89em">1</tspan>0dpi</text>
<text transform="translate(1965.58,1214.60) scale(1.0210,1)" font-family="'Liberation Sans', Arial, sans-serif" font-size="53.44" font-weight="bold" text-anchor="middle" fill="#000"><tspan font-family="NanumGothic, 'Liberation Sans', sans-serif" font-weight="800" style="font-size:0.89em">1</tspan>4dpi</text>
<text transform="translate(2148.40,1214.60) scale(1.0210,1)" font-family="'Liberation Sans', Arial, sans-serif" font-size="53.44" font-weight="bold" text-anchor="middle" fill="#000">2<tspan font-family="NanumGothic, 'Liberation Sans', sans-serif" font-weight="800" style="font-size:0.89em">1</tspan>dpi</text>
<text transform="translate(329.30,2531.40) scale(1.0210,1)" font-family="'Liberation Sans', Arial, sans-serif" font-size="53.44" font-weight="bold" text-anchor="middle" fill="#000">0dpv</text>
<text transform="translate(510.46,2531.40) scale(1.0210,1)" font-family="'Liberation Sans', Arial, sans-serif" font-size="53.44" font-weight="bold" text-anchor="middle" fill="#000">7dpv</text>
<text transform="translate(690.12,2531.40) scale(1.0210,1)" font-family="'Liberation Sans', Arial, sans-serif" font-size="53.44" font-weight="bold" text-anchor="middle" fill="#000"><tspan font-family="NanumGothic, 'Liberation Sans', sans-serif" font-weight="800" style="font-size:0.89em">1</tspan>4dpv</text>
<text transform="translate(872.78,2531.40) scale(1.0210,1)" font-family="'Liberation Sans', Arial, sans-serif" font-size="53.44" font-weight="bold" text-anchor="middle" fill="#000">2<tspan font-family="NanumGothic, 'Liberation Sans', sans-serif" font-weight="800" style="font-size:0.89em">1</tspan>dpv</text>
<text transform="translate(1053.94,2531.40) scale(1.0210,1)" font-family="'Liberation Sans', Arial, sans-serif" font-size="53.44" font-weight="bold" text-anchor="middle" fill="#000">28dpv</text>
<text transform="translate(1237.10,2531.40) scale(1.0210,1)" font-family="'Liberation Sans', Arial, sans-serif" font-size="53.44" font-weight="bold" text-anchor="middle" fill="#000">3dpi</text>
<text transform="translate(1417.76,2531.40) scale(1.0210,1)" font-family="'Liberation Sans', Arial, sans-serif" font-size="53.44" font-weight="bold" text-anchor="middle" fill="#000">5dpi</text>
<text transform="translate(1597.92,2531.40) scale(1.0210,1)" font-family="'Liberation Sans', Arial, sans-serif" font-size="53.44" font-weight="bold" text-anchor="middle" fill="#000">7dpi</text>
<text transform="translate(1777.58,2531.40) scale(1.0210,1)" font-family="'Liberation Sans', Arial, sans-serif" font-size="53.44" font-weight="bold" text-anchor="middle" fill="#000"><tspan font-family="NanumGothic, 'Liberation Sans', sans-serif" font-weight="800" style="font-size:0.89em">1</tspan>0dpi</text>
<text transform="translate(1958.74,2531.40) scale(1.0210,1)" font-family="'Liberation Sans', Arial, sans-serif" font-size="53.44" font-weight="bold" text-anchor="middle" fill="#000"><tspan font-family="NanumGothic, 'Liberation Sans', sans-serif" font-weight="800" style="font-size:0.89em">1</tspan>4dpi</text>
<text transform="translate(2141.40,2531.40) scale(1.0210,1)" font-family="'Liberation Sans', Arial, sans-serif" font-size="53.44" font-weight="bold" text-anchor="middle" fill="#000">2<tspan font-family="NanumGothic, 'Liberation Sans', sans-serif" font-weight="800" style="font-size:0.89em">1</tspan>dpi</text>
</g>
</svg>
</body></html>
